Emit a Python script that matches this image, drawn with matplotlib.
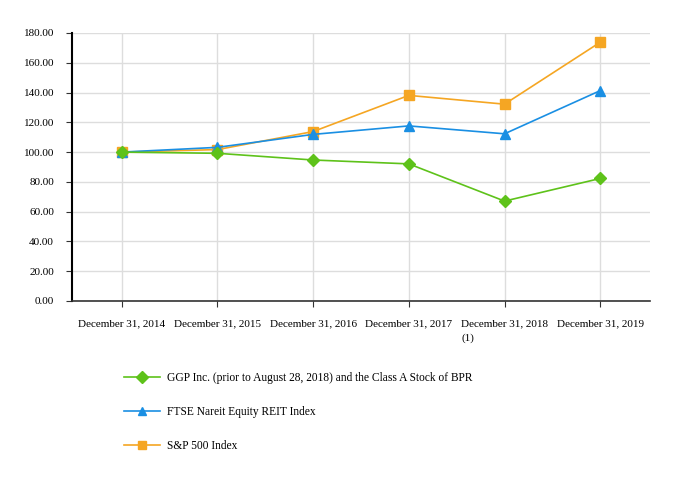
import matplotlib
matplotlib.use('Agg')
import matplotlib.pyplot as plt
from matplotlib.ticker import FormatStrFormatter

plt.rcParams['font.family'] = ['Liberation Serif', 'DejaVu Serif']

# data
dates = ['December 31, 2014', 'December 31, 2015', 'December 31, 2016',
         'December 31, 2017', 'December 31, 2018\n(1)', 'December 31, 2019']
ggp = [100.0, 99.2, 94.7, 92.1, 67.1, 82.3]
reit = [100.0, 103.2, 111.9, 117.6, 112.3, 141.3]
sp500 = [100.0, 101.7, 113.8, 138.1, 132.2, 173.8]

names = ['GGP Inc. (prior to August 28, 2018) and the Class A Stock of BPR',
         'FTSE Nareit Equity REIT Index',
         'S&P 500 Index']

green = '#5EC21A'
blue = '#1A8FE3'
orange = '#F5A623'

fig = plt.figure(figsize=(6.82, 4.8), dpi=100)
ax = fig.add_axes([72 / 682, 1 - 301 / 480, (650 - 72) / 682, (301 - 33) / 480])

x = list(range(len(dates)))
ax.plot(x, ggp, color=green, marker='D', markersize=6.5, lw=1.2, label=names[0], zorder=5)
ax.plot(x, reit, color=blue, marker='^', markersize=6.5, lw=1.2, label=names[1], zorder=4)
ax.plot(x, sp500, color=orange, marker='s', markersize=6.5, lw=1.2, label=names[2], zorder=3)

ax.set_xlim(-0.52, 5.52)
ax.set_ylim(0, 180)
ax.set_yticks(range(0, 181, 20))
ax.yaxis.set_major_formatter(FormatStrFormatter('%.2f'))
ax.set_xticks(x)
ax.set_xticklabels(dates, fontsize=8, ha='center', va='top',
                   multialignment='left', linespacing=1.7)

ax.tick_params(axis='y', labelsize=8, length=4.3, pad=8.6, color='#333333')
ax.tick_params(axis='x', length=4.3, pad=8.6, color='#333333')

ax.grid(True, color='#dddddd', lw=1)
ax.set_axisbelow(True)
ax.spines['top'].set_visible(False)
ax.spines['right'].set_visible(False)
ax.spines['left'].set_linewidth(1.5)
ax.spines['bottom'].set_linewidth(1.2)
ax.spines['bottom'].set_color('#333333')

fig.legend(loc='upper left', bbox_to_anchor=(124 / 682, 1 - 372 / 480),
           frameon=False, fontsize=8.3, handlelength=3.1, labelspacing=1.9,
           handletextpad=0.6, borderpad=0, borderaxespad=0, markerscale=0.9)

fig.savefig('out.png', dpi=100)
